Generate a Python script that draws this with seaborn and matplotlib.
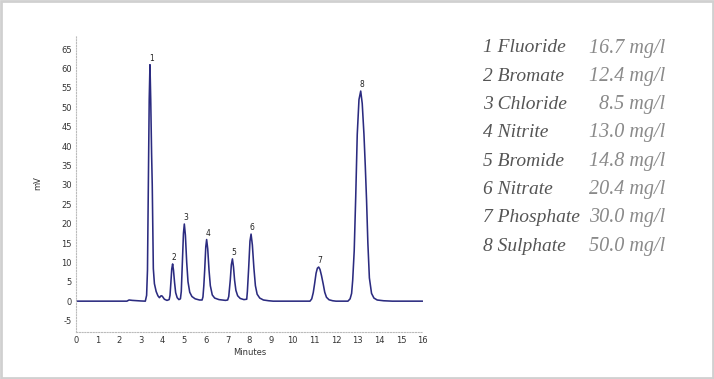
"""
Cromatograma de aniones: traza de conductividad (mV) frente al tiempo (min)
con la tabla de picos a la derecha.
"""
import matplotlib
matplotlib.use("Agg")
import matplotlib.pyplot as plt
from matplotlib.patches import Rectangle
import pandas as pd
import seaborn as sns

# Traza (minutos, mV)
tiempo_min = [
    0.0, 2.35, 2.45, 2.6, 3.0, 3.2,
    3.26, 3.30, 3.34, 3.38, 3.415, 3.45, 3.49, 3.52, 3.57, 3.62, 3.70, 3.78, 3.85, 3.93, 3.98, 4.08, 4.20, 4.30,
    4.34, 4.38, 4.42, 4.46, 4.50, 4.55, 4.60, 4.67, 4.75, 4.82,
    4.86, 4.91, 4.96, 5.00, 5.05, 5.11, 5.17, 5.25, 5.35, 5.50, 5.70, 5.82,
    5.86, 5.90, 5.94, 5.99, 6.03, 6.08, 6.14, 6.20, 6.29, 6.40, 6.60, 6.90, 7.00,
    7.05, 7.08, 7.12, 7.17, 7.22, 7.27, 7.32, 7.38, 7.46, 7.58, 7.75, 7.88,
    7.91, 7.97, 8.03, 8.08, 8.14, 8.21, 8.28, 8.36, 8.48, 8.65, 8.90, 9.10,
    10.80, 10.88, 10.95, 11.01, 11.08, 11.14, 11.20, 11.26, 11.33, 11.41, 11.48, 11.56, 11.68, 11.85, 12.00,
    12.55, 12.65, 12.72, 12.77, 12.84, 12.91, 12.98, 13.06, 13.14, 13.21, 13.29, 13.35, 13.41, 13.47, 13.54,
    13.64, 13.75, 13.90, 14.20, 14.60, 16.0,
]
senal_mv = [
    0.0, 0.0, 0.3, 0.2, 0.05, 0.0,
    1.5, 8.0, 30.0, 52.0, 61.0, 52.0, 38.0, 30.0, 8.4, 4.5, 2.5, 1.4, 0.9, 1.4, 1.3, 0.5, 0.2, 0.4,
    1.5, 4.8, 8.3, 9.6, 8.0, 4.8, 2.2, 0.9, 0.4, 0.6,
    2.5, 10.0, 17.5, 19.9, 17.0, 10.0, 5.0, 2.3, 1.2, 0.6, 0.3, 0.3,
    1.1, 4.0, 8.0, 14.0, 15.9, 13.5, 8.0, 4.0, 1.6, 0.8, 0.4, 0.2, 0.3,
    1.2, 3.0, 5.4, 9.4, 10.9, 8.8, 5.4, 2.8, 1.4, 0.7, 0.4, 0.5,
    2.5, 8.6, 15.5, 17.3, 14.5, 8.6, 4.0, 1.8, 0.8, 0.3, 0.1, 0.0,
    0.0, 0.6, 2.2, 4.4, 7.2, 8.5, 8.8, 8.2, 6.6, 4.4, 2.3, 1.0, 0.35, 0.1, 0.0,
    0.0, 0.6, 2.0, 5.4, 13.0, 27.0, 43.0, 52.0, 54.2, 51.0, 43.0, 35.0, 26.0, 15.0, 6.0,
    2.0, 0.8, 0.3, 0.1, 0.0, 0.0,
]

# Etiquetas de pico (número, tiempo, altura)
pico_num = ["1", "2", "3", "4", "5", "6", "7", "8"]
pico_tiempo = [3.415, 4.46, 5.00, 6.03, 7.22, 8.08, 11.20, 13.14]
pico_altura = [61.0, 9.6, 19.9, 15.9, 10.9, 17.3, 8.8, 54.2]

# Tabla de analitos
analitos = ["1 Fluoride", "2 Bromate", "3 Chloride", "4 Nitrite",
            "5 Bromide", "6 Nitrate", "7 Phosphate", "8 Sulphate"]
concentraciones = ["16.7 mg/l", "12.4 mg/l", "8.5 mg/l", "13.0 mg/l",
                   "14.8 mg/l", "20.4 mg/l", "30.0 mg/l", "50.0 mg/l"]

xticks = list(range(0, 17))
yticks = list(range(-5, 70, 5))

sns.set_style("white")
plt.rcParams['font.family'] = ['DejaVu Sans']
plt.rcParams['axes.unicode_minus'] = False

fig = plt.figure(figsize=(7.14, 3.79), dpi=100)
ax = fig.add_axes([0.1064, 0.125, 0.4856, 0.782])

df = pd.DataFrame({"Minutes": tiempo_min, "mV": senal_mv})
sns.lineplot(data=df, x="Minutes", y="mV", ax=ax, color="#2b2b80",
             linewidth=1.15, sort=False)

for n, t, h in zip(pico_num, pico_tiempo, pico_altura):
    ax.text(t + 0.06, h + 0.5, n, fontsize=5.5, color="#222222",
            ha="center", va="bottom")

ax.set_xlim(0, 16)
ax.set_ylim(-7.86, 68.6)
ax.set_xticks(xticks)
ax.set_yticks(yticks)
ax.tick_params(axis="both", labelsize=6, colors="#333333", length=0, pad=3)
ax.set_xlabel("Minutes", fontsize=6, color="#333333")
ax.set_ylabel("mV", fontsize=6, color="#333333")
ax.xaxis.set_label_coords(0.5, -0.055)
ax.yaxis.set_label_coords(-0.098, 0.5)

for lado in ["top", "right"]:
    ax.spines[lado].set_visible(False)
for lado in ["left", "bottom"]:
    ax.spines[lado].set_color("#bbbbbb")
    ax.spines[lado].set_linestyle((0, (1, 1.5)))
    ax.spines[lado].set_linewidth(0.8)

# Tabla de analitos a la derecha
y0 = 1 - 48 / 379
paso = 28.3 / 379
fuente = ["Liberation Serif", "DejaVu Serif"]
for i, (nombre, conc) in enumerate(zip(analitos, concentraciones)):
    y = y0 - i * paso
    fig.text(0.676, y, nombre, fontsize=14, style="italic",
             family=fuente, color="#555555", ha="left", va="center")
    fig.text(0.932, y, conc, fontsize=14.5, style="italic",
             family=fuente, color="#8a8a8a", ha="right", va="center")

# Marco gris alrededor de la figura
fig.patches.append(Rectangle((0.001, 0.002), 0.997, 0.995, transform=fig.transFigure,
                             fill=False, edgecolor="#d0d0d0", linewidth=2))

fig.savefig("out.png", dpi=100)
